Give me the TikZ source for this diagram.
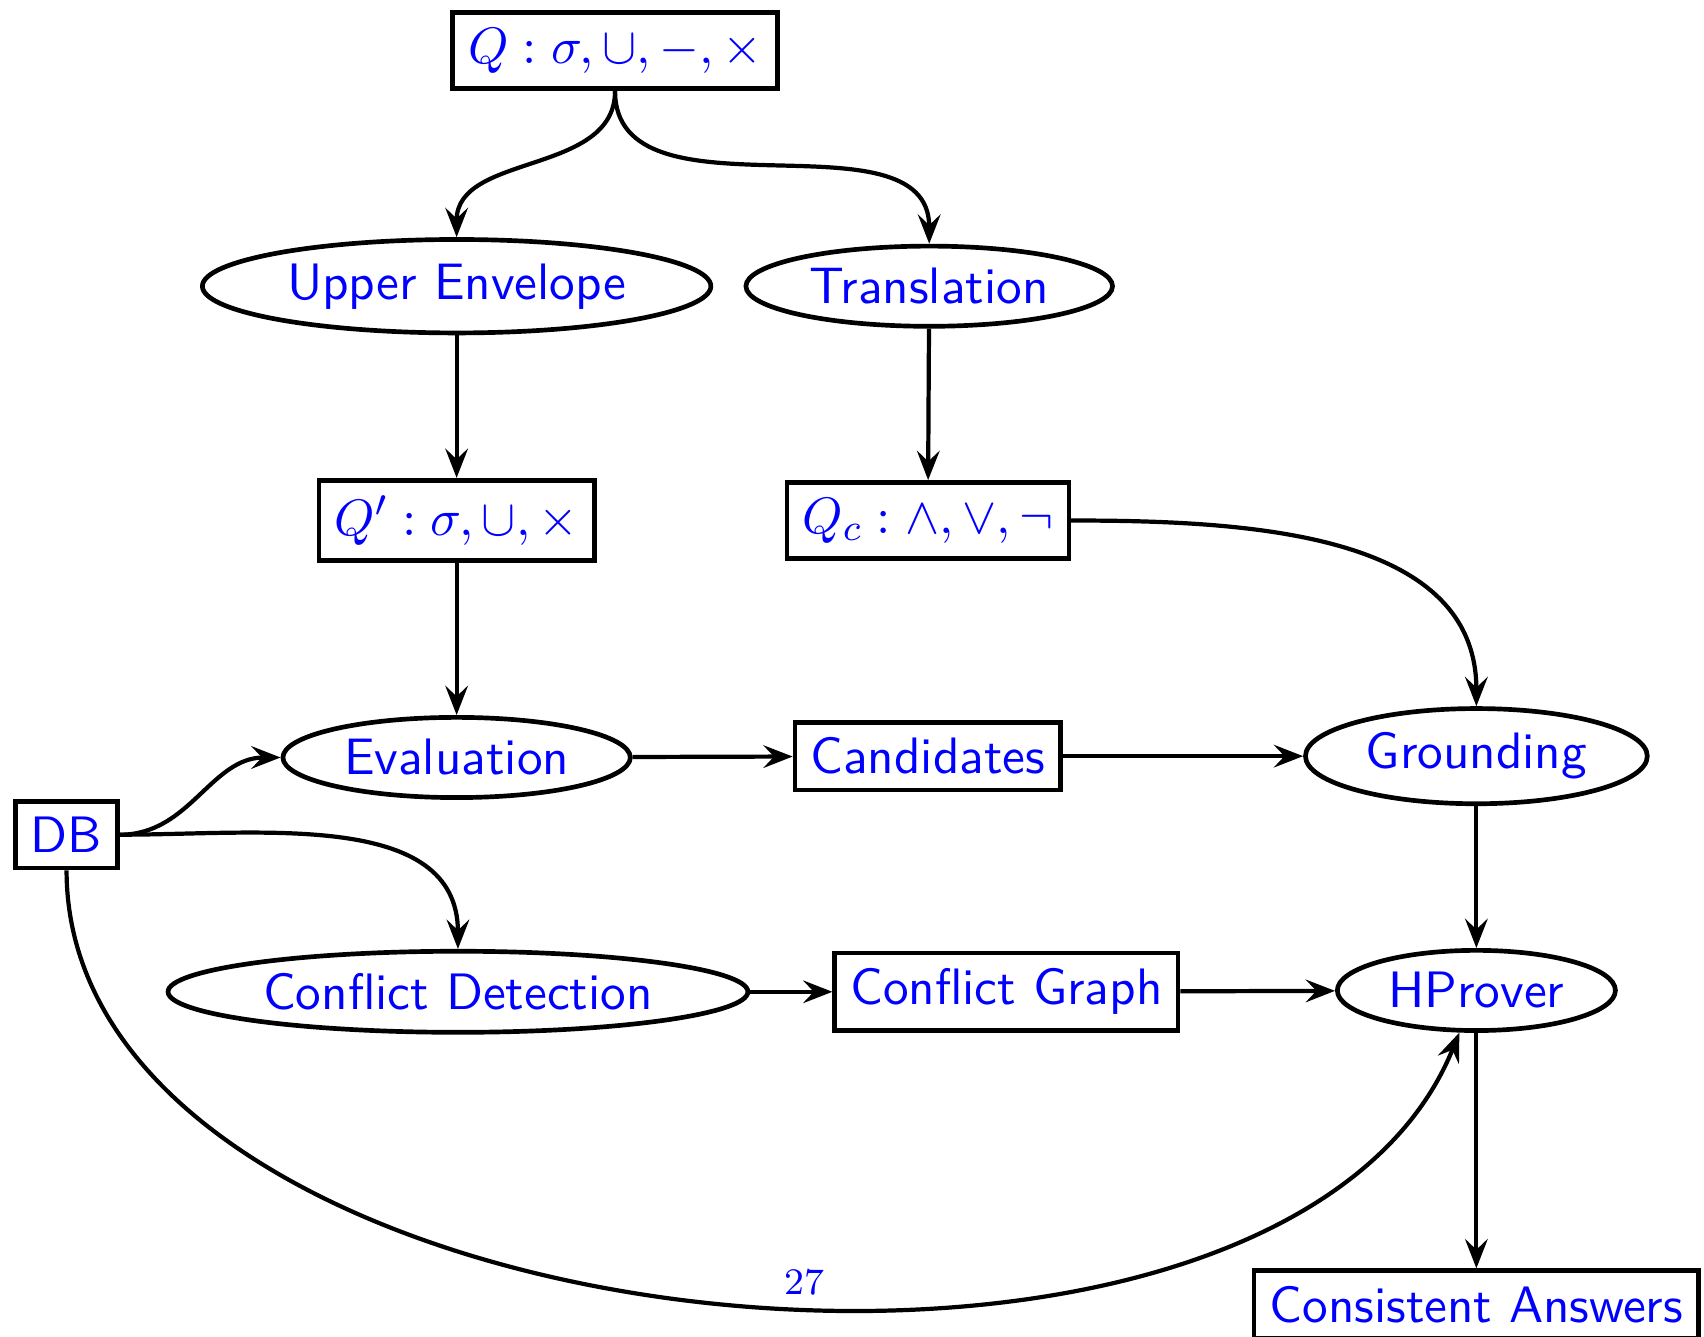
\documentclass[tikz,border=0pt]{standalone}
\usepackage{amsmath}
\usepackage{tikz}
\usetikzlibrary{arrows.meta, positioning, shapes.geometric}
\tikzset{
    proc/.style={ellipse, draw, line width=1pt, text=blue, inner sep=2.2pt},
    datum/.style={rectangle, draw, line width=1pt, text=blue},
    every node/.append style={font=\sffamily\fontsize{10.95}{13}\selectfont},
}

\begin{document}
\begin{tikzpicture}
    \tikzset{
      >={Stealth[length=2.2mm, width=1.7mm, inset=0.8mm]},
      every edge/.append style={line width=0.9pt}
    }
    \useasboundingbox (0,0) rectangle (12.8,-10.043);

    \node[datum] (q) at (4.62,-0.38) {$Q : \sigma, \cup, -, \times$};
    \node[proc] (upper) at (3.43,-2.15) {Upper Envelope};
    \node[proc] (trans) at (6.98,-2.15) {Translation};
    \node[datum] (qprime) at (3.43,-3.91) {$Q' : \sigma, \cup, \times$};
    \node[datum] (qc) at (6.97,-3.91) {$Q_c : \wedge, \vee, \neg$};
    \node[proc] (eval) at (3.43,-5.69) {Evaluation};
    \node[datum] (cand) at (6.97,-5.68) {Candidates};
    \node[proc] (ground) at (11.09,-5.68) {Grounding};
    \node[datum] (db) at (0.50,-6.27) {DB};
    \node[proc] (detect) at (3.44,-7.45) {Conflict Detection};
    \node[datum] (graph) at (7.56,-7.45) {Conflict Graph};
    \node[proc] (prover) at (11.09,-7.44) {HProver};
    \node[datum] (answers) at (11.09,-9.80) {Consistent Answers};
    \node[text=blue, font=\rmfamily\footnotesize] (pagenum) at (6.04,-9.63) {27};

    \draw (q.south) edge[->, out=-90, in=90] (upper.north);
    \draw (q.south) edge[->, out=-90, in=90] (trans.north);
    \draw (upper) edge[->] (qprime);
    \draw (trans) edge[->] (qc);
    \draw (qprime) edge[->] (eval);
    \draw (qc.east) edge[->, out=0, in=90] (ground.north);
    \draw (eval) edge[->] (cand);
    \draw (cand) edge[->] (ground);
    \draw (db.east) edge[->, out=0, in=180] (eval.west);
    \draw (db.east) edge[->, out=0, in=90] (detect.north);
    \draw (detect) edge[->] (graph);
    \draw (graph) edge[->] (prover);
    \draw (ground) edge[->] (prover);
    \draw (prover) edge[->] (answers);
    \draw (db.south) edge[->, out=-90, in=-112, looseness=0.88] (prover);
  \end{tikzpicture}
\end{document}
